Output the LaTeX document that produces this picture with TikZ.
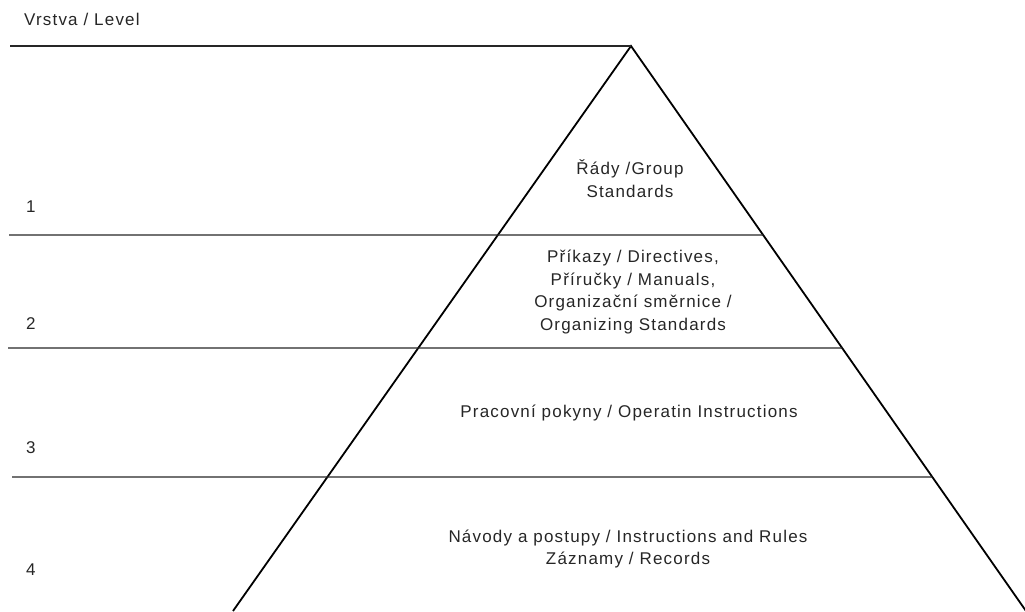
\documentclass[tikz,border=0pt]{standalone}
\usepackage{fontspec}
\usetikzlibrary{calc}
\newfontfamily\lbfamily[LetterSpace=7]{Liberation Sans}
\begin{document}
\begin{tikzpicture}[x=1pt,y=-1pt,
  edge/.style={line width=1.8pt, black},
  rule/.style={line width=1.2pt, black!85},
  lbl/.style={font=\lbfamily\fontsize{17}{22.8}\selectfont, text=black!85, align=center, inner sep=0pt},
  lvl/.style={font=\lbfamily\fontsize{17}{22.8}\selectfont, text=black!85, anchor=base west, inner sep=0pt}]
  \useasboundingbox (0,0) rectangle (1025,611);
  \clip (0,0) rectangle (1025,611);

  % pyramid outline
  \coordinate (apex) at (631,46);
  \coordinate (bl) at (233,611);
  \coordinate (br) at (1026,611);
  \draw[edge] (bl) -- (apex) -- (br);

  % level separators, each ending on the right flank
  \coordinate (s0) at (10,46);
  \coordinate (s1) at (9,235);
  \coordinate (s2) at (8,348);
  \coordinate (s3) at (12,477);
  \coordinate (e1) at ($(apex)!0.3345!(br)$);
  \coordinate (e2) at ($(apex)!0.5345!(br)$);
  \coordinate (e3) at ($(apex)!0.7628!(br)$);
  \draw[rule] (s0) -- (apex);
  \draw[rule] (s1) -- (e1);
  \draw[rule] (s2) -- (e2);
  \draw[rule] (s3) -- (e3);

  % column heading and level numbers
  \node[lvl] (head) at (24,25) {Vrstva / Level};
  \node[lvl] (n1) at (26,212) {1};
  \node[lvl] (n2) at (26,329) {2};
  \node[lvl] (n3) at (26,453) {3};
  \node[lvl] (n4) at (26,575) {4};

  % document types per level
  \node[lbl] (t1) at (630,179) {Řády /Group\\Standards};
  \node[lbl] (t2) at (633,292) {Příkazy / Directives,\\Příručky / Manuals,\\Organizační směrnice /\\Organizing Standards};
  \node[lbl] (t3) at (629,413) {Pracovní pokyny / Operatin Instructions};
  \node[lbl] (t4) at (628,549) {Návody a postupy / Instructions and Rules\\Záznamy / Records};
\end{tikzpicture}
\end{document}
